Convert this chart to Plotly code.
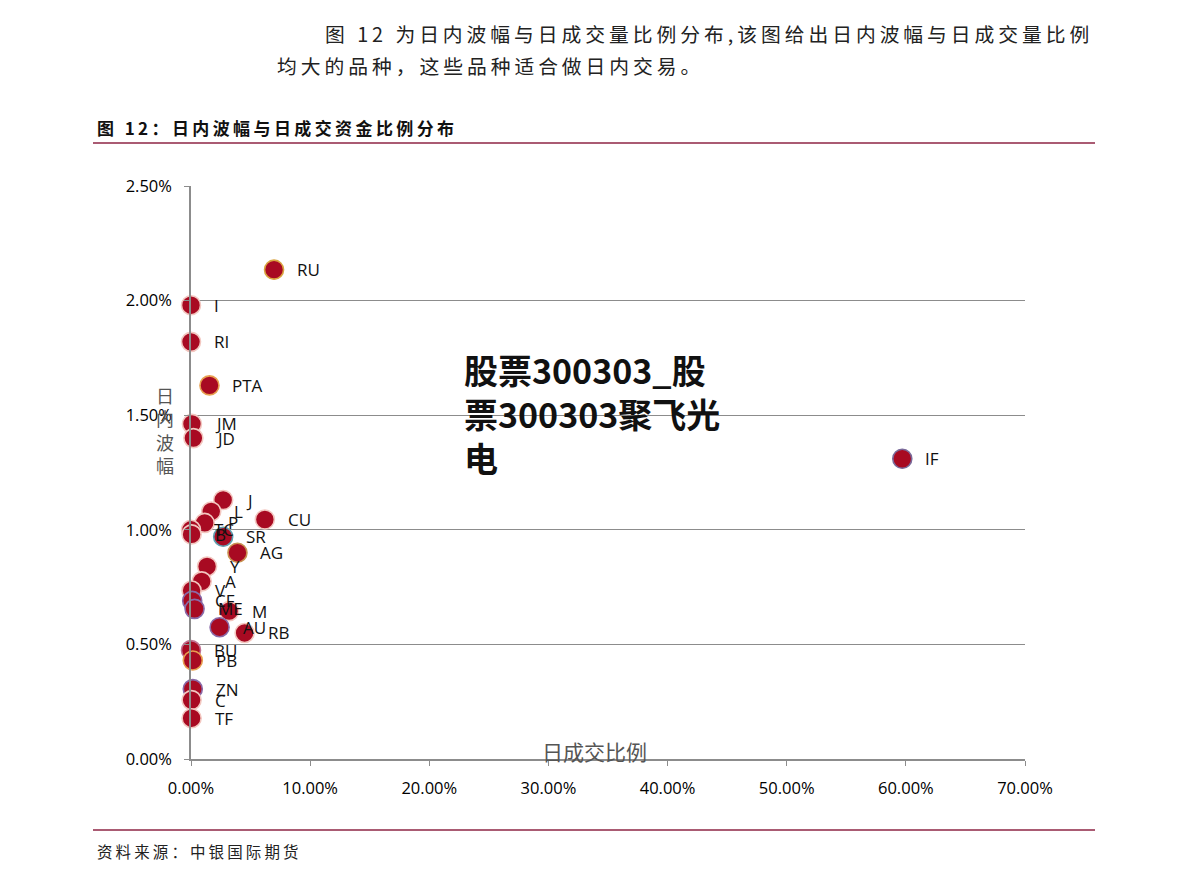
import plotly.graph_objects as go

# ---- data (percent units) ----
names = ["RU", "I", "RI", "PTA", "JM", "JD", "IF", "J", "L", "P", "CU", "TC", "B", "SR",
         "AG", "Y", "A", "V", "CF", "ME", "M", "AU", "RB", "BU", "PB", "ZN", "C", "TF"]
volume_ratio = [6.97, 0.0, 0.0, 1.55, 0.08, 0.2, 59.7, 2.7, 1.7, 1.15, 6.2, 0.0, 0.05, 2.7,
                3.9, 1.35, 0.9, 0.05, 0.1, 0.3, 3.2, 2.4, 4.5, 0.0, 0.15, 0.15, 0.05, 0.05]
intraday_amp = [2.135, 1.98, 1.82, 1.63, 1.462, 1.40, 1.31, 1.13, 1.08, 1.03, 1.045, 1.00, 0.98, 0.97,
                0.90, 0.84, 0.775, 0.735, 0.69, 0.655, 0.645, 0.575, 0.55, 0.475, 0.43, 0.305, 0.257, 0.178]
x_ticks = [0, 10, 20, 30, 40, 50, 60, 70]
x_tick_labels = ["0.00%", "10.00%", "20.00%", "30.00%", "40.00%", "50.00%", "60.00%", "70.00%"]
y_ticks = [0, 0.5, 1.0, 1.5, 2.0, 2.5]
y_tick_labels = ["0.00%", "0.50%", "1.00%", "1.50%", "2.00%", "2.50%"]

OFF = 8  # page body margin
W, H = 1183, 871
L, R, T, B = 191 - OFF, 1025 - OFF, 186 - OFF, 759 - OFF

def px(x, y):
    x -= OFF
    y -= OFF
    return (x - L) / (R - L), (B - y) / (B - T)

def spaced(s):
    return "\u2009".join(list(s))

outline_special = {"RU": "#D9A441", "PTA": "#E8A050", "PB": "#E8A050", "AG": "#C89050",
                   "IF": "#7A6A9A", "SR": "#5FA0B0", "CF": "#8A6AA8", "ME": "#8A6AA8",
                   "AU": "#8A6AA8", "ZN": "#8A6AA8", "BU": "#C07090"}
outlines = [outline_special.get(n, "#F3C7C0") for n in names]

fig = go.Figure()
fig.add_trace(go.Scatter(
    x=volume_ratio, y=intraday_amp, mode="markers", cliponaxis=False,
    marker=dict(size=19, color="#A80A22", line=dict(color=outlines, width=1.6)),
    hoverinfo="text", text=names, showlegend=False))

annotations = []
for n, xv, yv in zip(names, volume_ratio, intraday_amp):
    annotations.append(dict(x=xv, y=yv, xref="x", yref="y", text=n, showarrow=False,
                            xanchor="left", yanchor="middle", xshift=21,
                            font=dict(family="Open Sans", size=17, color="#111111")))

def ann(x, y, text, size, color="#222222", family="Noto Sans CJK SC", xanchor="left", yanchor="middle"):
    xp, yp = px(x, y)
    annotations.append(dict(x=xp, y=yp, xref="paper", yref="paper", text=text, showarrow=False,
                            xanchor=xanchor, yanchor=yanchor, align="left",
                            font=dict(family=family, size=size, color=color)))

# header paragraph
ann(323, 33, spaced("图 12 为日内波幅与日成交量比例分布,该图给出日内波幅与日成交量比例"), 19.8)
ann(275, 65, spaced("均大的品种，这些品种适合做日内交易。"), 19.8)
# chart title
ann(95, 127, "<b>" + spaced("图 12：日内波幅与日成交资金比例分布") + "</b>", 17, color="#111111")
# source
ann(95, 851, spaced("资料来源：中银国际期货"), 15.5, color="#222222")
# axis titles
ann(594, 751, "日成交比例", 21, color="#555555", xanchor="center")
ann(165, 430, "日<br>内<br>波<br>幅", 18, color="#555555", xanchor="center")
# overlay text
ann(462, 413, "<b>股票300303_股<br>票300303聚飞光<br>电</b>", 34, color="#111111")

shapes = []
for yy in (143, 830):
    x0, y0 = px(93, yy)
    x1, _ = px(1095, yy)
    shapes.append(dict(type="line", xref="paper", yref="paper", x0=x0, x1=x1, y0=y0, y1=y0,
                       line=dict(color="#8E2545", width=1.5)))

fig.update_layout(
    width=W, height=H, paper_bgcolor="white", plot_bgcolor="white",
    margin=dict(l=L, r=W - R, t=T, b=H - B, pad=0),
    annotations=annotations, shapes=shapes,
    xaxis=dict(range=[0, 70], tickvals=x_ticks, ticktext=x_tick_labels,
               showgrid=False, zeroline=False, showline=True, linecolor="#8C8C8C", linewidth=1.5,
               ticks="outside", ticklen=5, tickcolor="#8C8C8C", ticklabelstandoff=8,
               tickfont=dict(family="Open Sans", size=16.5, color="#000000")),
    yaxis=dict(range=[0, 2.5], tickvals=y_ticks, ticktext=y_tick_labels,
               showgrid=True, gridcolor="#8C8C8C", gridwidth=1, zeroline=False,
               showline=True, linecolor="#8C8C8C", linewidth=1.5,
               ticks="outside", ticklen=5, tickcolor="#8C8C8C", ticklabelstandoff=9,
               tickfont=dict(family="Open Sans", size=16.5, color="#000000")),
)

fig.write_html("out.html")
